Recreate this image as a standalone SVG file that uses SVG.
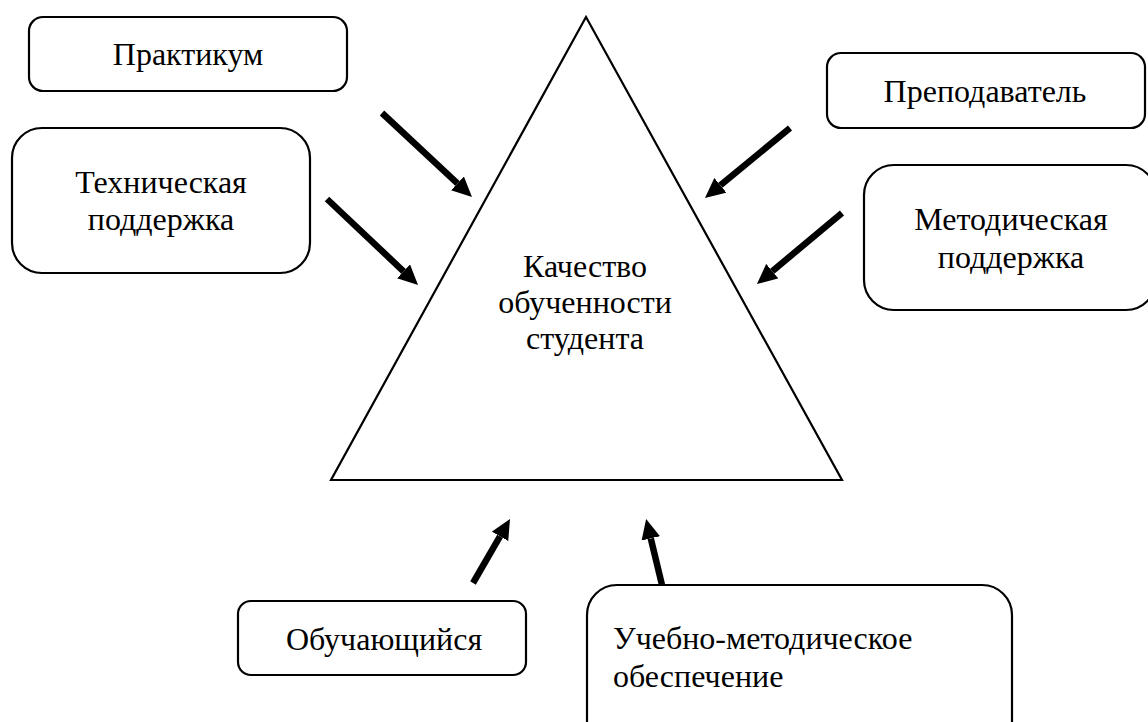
<svg xmlns="http://www.w3.org/2000/svg" width="1148" height="722" viewBox="0 0 1148 722">
<style>
.box{fill:#fff;stroke:#000;stroke-width:2.2}
.tri{fill:#fff;stroke:#000;stroke-width:2.2;stroke-linejoin:miter}
.t{font-family:"Liberation Serif","Times New Roman",serif;font-size:32px;fill:#000}
.c{text-anchor:middle}
.arr{stroke:#000;stroke-width:6.5;fill:none;marker-end:url(#ah)}
</style>
<defs>
<marker id="ah" markerUnits="userSpaceOnUse" markerWidth="20" markerHeight="19" refX="0" refY="9.5" orient="auto" viewBox="0 0 20 19">
<path d="M0,0 L20,9.5 L0,19 z" fill="#000"/>
</marker>
</defs>
<rect width="1148" height="722" fill="#fff"/>
<g id="triangle">
<polygon class="tri" points="586,17 331,480 842,480"/>
<text class="t c" x="585" y="277">Качество</text>
<text class="t c" x="585" y="313">обученности</text>
<text class="t c" x="585" y="349">студента</text>
</g>
<g id="praktikum">
<rect class="box" x="29" y="17" width="318" height="74" rx="14"/>
<text class="t c" x="188" y="65">Практикум</text>
</g>
<g id="tech">
<rect class="box" x="12" y="128" width="298" height="145" rx="30"/>
<text class="t c" x="161" y="193">Техническая</text>
<text class="t c" x="161" y="230">поддержка</text>
</g>
<g id="prepod">
<rect class="box" x="827" y="53" width="318" height="75" rx="14"/>
<text class="t c" x="985" y="102">Преподаватель</text>
</g>
<g id="metod">
<rect class="box" x="864" y="165" width="292" height="145" rx="30"/>
<text class="t c" x="1011" y="230">Методическая</text>
<text class="t c" x="1011" y="268">поддержка</text>
</g>
<g id="obuch">
<rect class="box" x="238" y="601" width="288" height="74" rx="13"/>
<text class="t c" x="384" y="650">Обучающийся</text>
</g>
<g id="ucheb">
<rect class="box" x="587" y="585" width="425" height="170" rx="30"/>
<text class="t" x="613" y="649">Учебно-методическое</text>
<text class="t" x="613" y="687">обеспечение</text>
</g>
<g id="connectors">
<line class="arr" x1="382" y1="113" x2="457.4" y2="183.4"/>
<line class="arr" x1="327" y1="199" x2="403.5" y2="271.3"/>
<line class="arr" x1="790" y1="128" x2="720.4" y2="185.3"/>
<line class="arr" x1="842" y1="213" x2="772.3" y2="271.2"/>
<line class="arr" x1="473" y1="583" x2="500" y2="536.3"/>
<line class="arr" x1="662" y1="585" x2="650.8" y2="538.4"/>
</g>
</svg>
